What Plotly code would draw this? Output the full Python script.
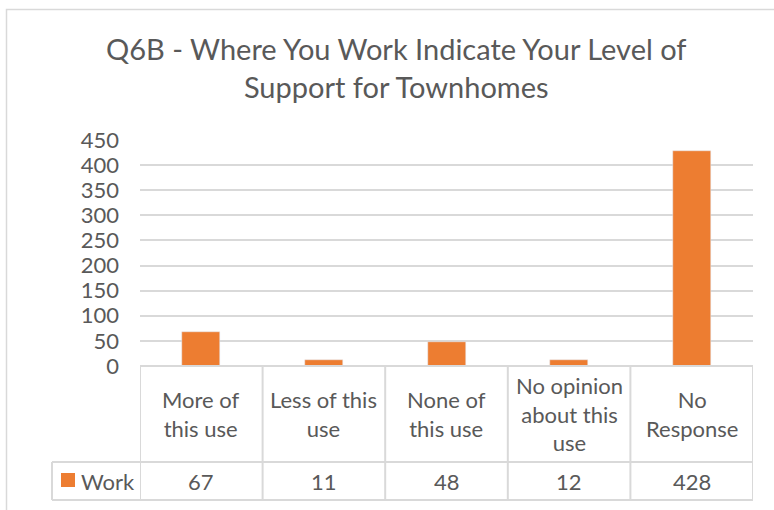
import plotly.graph_objects as go

categories = ["More of<br>this use", "Less of this<br>use", "None of<br>this use",
              "No opinion<br>about this<br>use", "No<br>Response"]
series_name = "Work"
values = [67, 11, 48, 12, 428]
tick_vals = [0, 50, 100, 150, 200, 250, 300, 350, 400, 450]

W, H = 774, 510
L, R, T, B = 140, 21, 140, 144
PW, PH = W - L - R, H - T - B
ORANGE = "#ED7D31"
GRID = "#d9d9d9"
TXT = "#595959"
FONT = "Lato"
FS = 22

def px_to_py(py):
    return (H - B - py) / PH

def px_to_px(px):
    return (px - L) / PW

n = len(categories)
fig = go.Figure()
fig.add_trace(go.Bar(x=list(range(n)), y=values, marker_color=ORANGE, width=0.31,
                     name=series_name, showlegend=False, hoverinfo="skip"))

shapes = []
row_mid = px_to_py(462)
row_bot = px_to_py(500)
# horizontal table lines
shapes.append(dict(type="line", xref="x", yref="paper", x0=-0.5, x1=n - 0.5, y0=0, y1=0,
                   line=dict(color=GRID, width=2)))
for yy in (row_mid, row_bot):
    shapes.append(dict(type="line", xref="paper", yref="paper", x0=px_to_px(52), x1=1,
                       y0=yy, y1=yy, line=dict(color=GRID, width=2)))
# vertical lines
for i in range(n + 1):
    shapes.append(dict(type="line", xref="x", yref="paper", x0=i - 0.5, x1=i - 0.5,
                       y0=0, y1=row_bot, line=dict(color=GRID, width=2)))
shapes.append(dict(type="line", xref="paper", yref="paper", x0=px_to_px(52), x1=px_to_px(52),
                   y0=row_mid, y1=row_bot, line=dict(color=GRID, width=2)))
# legend key
shapes.append(dict(type="rect", xref="paper", yref="paper", x0=px_to_px(61), x1=px_to_px(75),
                   y0=px_to_py(487), y1=px_to_py(473), fillcolor=ORANGE, line=dict(width=0)))
# chart border
shapes.append(dict(type="rect", xref="paper", yref="paper", x0=px_to_px(6.5), x1=px_to_px(790),
                   y0=px_to_py(520), y1=px_to_py(9.5), line=dict(color=GRID, width=1.5)))

annotations = []
for i, c in enumerate(categories):
    annotations.append(dict(x=i, y=px_to_py(414), xref="x", yref="paper", text=c,
                            showarrow=False, font=dict(size=FS, color=TXT, family=FONT),
                            xanchor="center", yanchor="middle"))
    annotations.append(dict(x=i, y=px_to_py(481), xref="x", yref="paper", text=str(values[i]),
                            showarrow=False, font=dict(size=FS, color=TXT, family=FONT),
                            xanchor="center", yanchor="middle"))
annotations.append(dict(x=px_to_px(79), y=px_to_py(481), xref="paper", yref="paper",
                        text=series_name, showarrow=False, xanchor="left", yanchor="middle",
                        font=dict(size=FS, color=TXT, family=FONT)))
annotations.append(dict(x=px_to_px(396), y=px_to_py(68), xref="paper", yref="paper",
                        text="Q6B - Where You Work Indicate Your Level of<br>Support for Townhomes",
                        showarrow=False, xanchor="center", yanchor="middle",
                        font=dict(size=29, color=TXT, family=FONT)))

fig.update_layout(
    width=W, height=H, margin=dict(l=L, r=R, t=T, b=B),
    paper_bgcolor="white", plot_bgcolor="white",
    shapes=shapes, annotations=annotations, bargap=0,
    font=dict(family=FONT, color=TXT),
)
fig.update_xaxes(range=[-0.5, n - 0.5], showticklabels=False, showgrid=False,
                 zeroline=False, showline=False)
fig.update_yaxes(range=[0, 450], tickvals=tick_vals, showgrid=True, gridcolor=GRID,
                 gridwidth=1.5, zeroline=False, showline=False,
                 tickfont=dict(size=FS, color=TXT, family=FONT), ticks="", ticklabelstandoff=20)

fig.write_html("out.html", config={"displayModeBar": False},
               post_script="document.body.style.margin='0';")
